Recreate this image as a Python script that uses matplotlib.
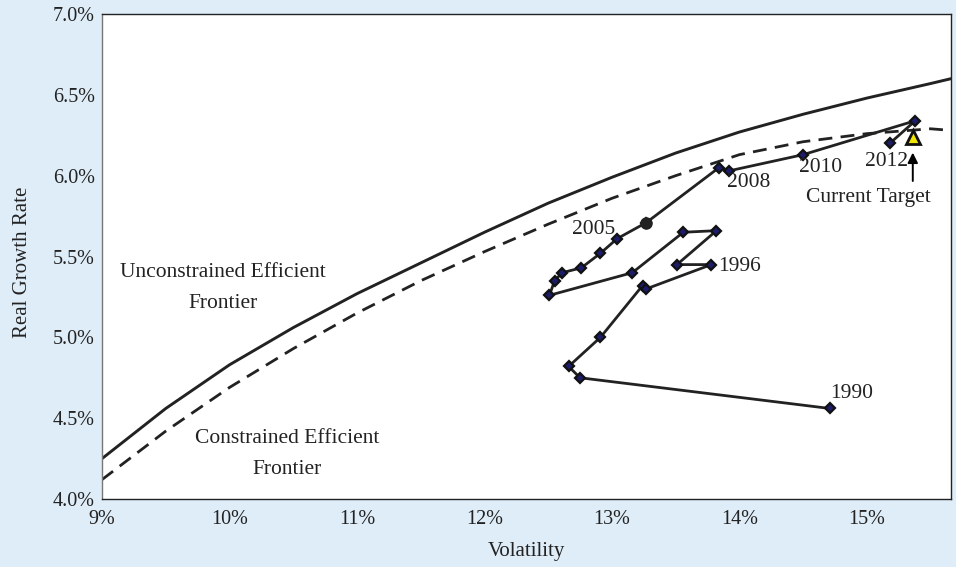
import matplotlib.pyplot as plt
from matplotlib.ticker import FuncFormatter, MultipleLocator

# efficient frontiers (volatility %, real growth %)
frontier_vol = [9.0, 9.5, 10.0, 10.5, 11.0, 11.5, 12.0, 12.5, 13.0, 13.5, 14.0, 14.5, 15.0, 15.5, 15.66]
unconstrained = [4.25, 4.56, 4.83, 5.06, 5.27, 5.46, 5.65, 5.83, 5.99, 6.14, 6.27, 6.38, 6.48, 6.57, 6.60]
constrained = [4.12, 4.42, 4.69, 4.93, 5.15, 5.35, 5.53, 5.70, 5.86, 6.00, 6.13, 6.21, 6.26, 6.29, 6.28]

# portfolio history 1990-2012
years = list(range(1990, 2013))
hist_vol = [14.71, 12.75, 12.66, 12.91, 13.24, 13.27, 13.78, 13.51, 13.82, 13.56, 13.16, 12.51,
            12.55, 12.61, 12.76, 12.91, 13.04, 13.27, 13.84, 13.92, 14.50, 15.38, 15.18]
hist_growth = [4.56, 4.75, 4.82, 5.00, 5.32, 5.30, 5.45, 5.45, 5.66, 5.65, 5.40, 5.26,
               5.35, 5.40, 5.43, 5.52, 5.61, 5.71, 6.05, 6.03, 6.13, 6.34, 6.20]
circle_year = 2007

target_vol = 15.36
target_growth = 6.24

# year labels: (text, x, y)
year_labels = [("1990", 14.88, 4.65), ("1996", 14.00, 5.44), ("2005", 12.86, 5.665),
               ("2008", 14.07, 5.96), ("2010", 14.64, 6.05), ("2012", 15.15, 6.09)]

plt.rcParams['font.family'] = ['Liberation Serif', 'DejaVu Serif']
bg = '#dfedf8'
ink = '#222222'

fig = plt.figure(figsize=(9.56, 5.67), dpi=100, facecolor=bg)
ax = fig.add_axes([0.1067, 0.1199, 0.8881, 0.8554])
ax.set_facecolor('white')

ax.plot(frontier_vol, unconstrained, color=ink, lw=2.1)
ax.plot(frontier_vol, constrained, color=ink, lw=2.0, ls=(0, (5, 3)))

ax.plot(hist_vol, hist_growth, color=ink, lw=2.0, marker='D', ms=5.5,
        mfc='#1c1c6a', mec='#111111', mew=1.6, zorder=3)
i = years.index(circle_year)
ax.plot(hist_vol[i], hist_growth[i], marker='o', ms=8, color=ink, zorder=4)

ax.plot(target_vol, target_growth, marker='^', ms=10, mfc='#f2e600', mec='#111111', mew=2, zorder=5)
ax.annotate('', xy=(target_vol, 6.16), xytext=(target_vol, 5.95),
            arrowprops=dict(arrowstyle='-|>', color='black', lw=1.4, mutation_scale=15))
ax.text(15.01, 5.865, 'Current Target', ha='center', va='center', fontsize=15.5, color=ink)

for txt, x, y in year_labels:
    ax.text(x, y, txt, ha='center', va='center', fontsize=15.5, color=ink)

ax.text(9.95, 5.305, 'Unconstrained Efficient\nFrontier', ha='center', va='center',
        fontsize=15.5, color=ink, linespacing=1.85)
ax.text(10.45, 4.28, 'Constrained Efficient\nFrontier', ha='center', va='center',
        fontsize=15.5, color=ink, linespacing=1.85)

ax.set_xlim(9, 15.66)
ax.set_ylim(4.0, 7.0)
ax.xaxis.set_major_locator(MultipleLocator(1))
ax.yaxis.set_major_locator(MultipleLocator(0.5))
ax.xaxis.set_major_formatter(FuncFormatter(lambda v, p: f'{v:.0f}%'))
ax.yaxis.set_major_formatter(FuncFormatter(lambda v, p: f'{v:.1f}%'))
ax.tick_params(length=0, labelsize=14.5, colors=ink)
ax.tick_params(axis='x', pad=8)
ax.tick_params(axis='y', pad=5)

for s in ax.spines.values():
    s.set_color('#222222')
    s.set_linewidth(1.0)
ax.spines['left'].set_color('#777777')

ax.set_xlabel('Volatility', fontsize=15, color=ink)
ax.set_ylabel('Real Growth Rate', fontsize=15, color=ink)
ax.xaxis.label.set_va('center')
ax.yaxis.label.set_va('center')
ax.xaxis.set_label_coords(0.5, -0.109)
ax.yaxis.set_label_coords(-0.094, 0.489)

fig.savefig('out.png', dpi=100, facecolor=bg)
